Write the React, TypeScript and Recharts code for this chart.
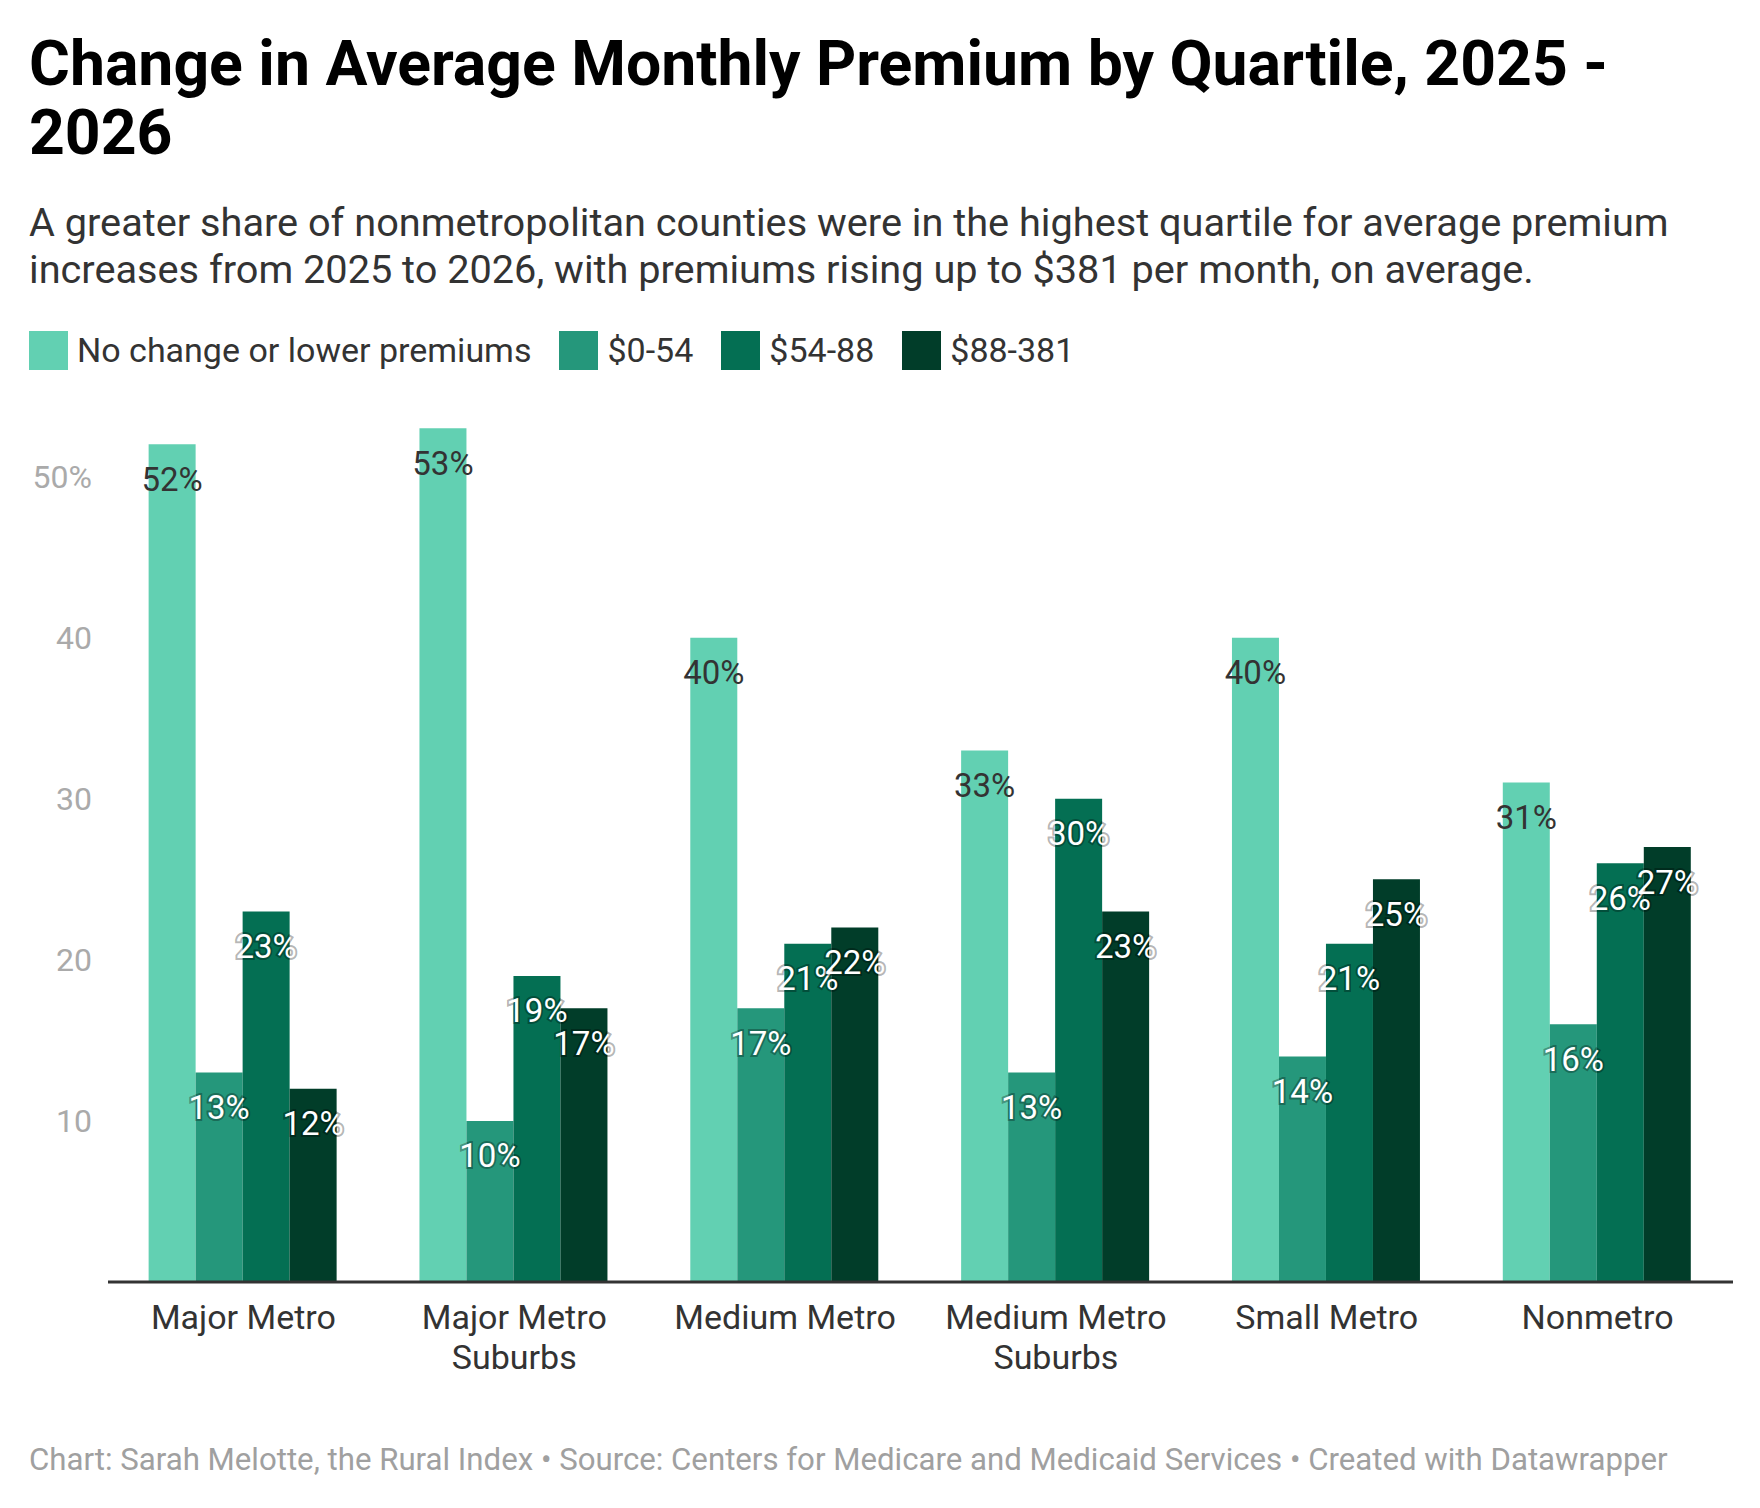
import React from "react";
import { Bar, BarChart, LabelList, XAxis, YAxis } from "recharts";

const categories = [
  "Major Metro",
  "Major Metro Suburbs",
  "Medium Metro",
  "Medium Metro Suburbs",
  "Small Metro",
  "Nonmetro"
];
const noChange = [52, 53, 40, 33, 40, 31];
const tier0to54 = [13, 10, 17, 13, 14, 16];
const tier54to88 = [23, 19, 21, 30, 21, 26];
const tier88to381 = [12, 17, 22, 23, 25, 27];
const yTicks = [10, 20, 30, 40, 50];

const series = [
  { key: "noChange", name: "No change or lower premiums", color: "#62d0b2", label: "#333333" },
  { key: "tier1", name: "$0-54", color: "#25977b", label: "#ffffff" },
  { key: "tier2", name: "$54-88", color: "#046f53", label: "#ffffff" },
  { key: "tier3", name: "$88-381", color: "#013d29", label: "#ffffff" }
];

const data = categories.map((name, i) => ({
  name,
  noChange: noChange[i],
  tier1: tier0to54[i],
  tier2: tier54to88[i],
  tier3: tier88to381[i]
}));

const FONT = "Roboto, 'Noto Sans', sans-serif";

// two-line wrap for the long category names
const CategoryTick = (props: any) => {
  const { x, y, payload } = props;
  const words: string[] = String(payload.value).split(" ");
  const lines = words.length > 2 ? [words.slice(0, 2).join(" "), words.slice(2).join(" ")] : [payload.value];
  return (
    <text x={x} y={y + 35} textAnchor="middle" fill="#333" fontSize={34} fontFamily={FONT}>
      {lines.map((l, i) => (
        <tspan key={i} x={x} dy={i === 0 ? "0.35em" : 40}>
          {l}
        </tspan>
      ))}
    </text>
  );
};

const makeLabel = (color: string) => (props: any) => {
  const { x, y, width, value } = props;
  const light = color === "#ffffff";
  return (
    <text
      x={x + width / 2}
      y={y + 35}
      dy="0.35em"
      textAnchor="middle"
      fontSize={33}
      fontFamily={FONT}
      fill={color}
      stroke={light ? "rgba(0,0,0,0.3)" : "none"}
      strokeWidth={light ? 4 : 0}
      paintOrder="stroke"
    >
      {`${value}%`}
    </text>
  );
};

export default function App() {
  return (
    <div
      style={{
        position: "absolute",
        left: 0,
        top: 0,
        width: 1760,
        height: 1508,
        background: "#fff",
        fontFamily: FONT,
        color: "#222"
      }}
    >
      <BarChart
        width={1760}
        height={1508}
        data={data}
        margin={{ top: 396, right: 27, bottom: 126, left: 2 }}
        barCategoryGap="15%"
        barGap={0}
        style={{ position: "absolute", left: 0, top: 0 }}
      >
        <XAxis
          dataKey="name"
          height={100}
          tickLine={false}
          tickSize={0}
          tickMargin={0}
          axisLine={{ stroke: "#333", strokeWidth: 3 }}
          tick={<CategoryTick />}
          interval={0}
        />
        <YAxis
          width={106}
          domain={[0, 55]}
          ticks={yTicks}
          axisLine={false}
          tickLine={false}
          tickSize={0}
          tickMargin={16}
          tick={{ fill: "#aaa", fontSize: 32, fontFamily: FONT }}
          tickFormatter={(v: number) => (v === 50 ? `${v}%` : `${v}`)}
        />
        {series.map((s) => (
          <Bar key={s.key} dataKey={s.key} name={s.name} fill={s.color} isAnimationActive={false}>
            <LabelList dataKey={s.key} content={makeLabel(s.label)} />
          </Bar>
        ))}
      </BarChart>

      <div
        style={{
          position: "absolute",
          left: 29,
          top: 29,
          fontSize: 62.5,
          lineHeight: "69px",
          fontWeight: 700,
          color: "#000",
          whiteSpace: "nowrap"
        }}
      >
        Change in Average Monthly Premium by Quartile, 2025 -<br />2026
      </div>

      <div
        style={{
          position: "absolute",
          left: 29,
          top: 199,
          fontSize: 39.7,
          lineHeight: "47px",
          color: "#333",
          whiteSpace: "nowrap"
        }}
      >
        A greater share of nonmetropolitan counties were in the highest quartile for average premium
        <br />
        increases from 2025 to 2026, with premiums rising up to $381 per month, on average.
      </div>

      <div
        style={{
          position: "absolute",
          left: 29,
          top: 330,
          display: "flex",
          alignItems: "center",
          fontSize: 34,
          color: "#333",
          whiteSpace: "nowrap"
        }}
      >
        {series.map((s) => (
          <div key={s.key} style={{ display: "flex", alignItems: "center", marginRight: 28 }}>
            <div style={{ width: 39, height: 39, background: s.color, marginRight: 9 }} />
            <span>{s.name}</span>
          </div>
        ))}
      </div>

      <div
        style={{
          position: "absolute",
          left: 29,
          top: 1441,
          fontSize: 31.2,
          color: "#a0a0a0",
          whiteSpace: "nowrap"
        }}
      >
        Chart: Sarah Melotte, the Rural Index • Source: Centers for Medicare and Medicaid Services • Created with Datawrapper
      </div>
    </div>
  );
}
